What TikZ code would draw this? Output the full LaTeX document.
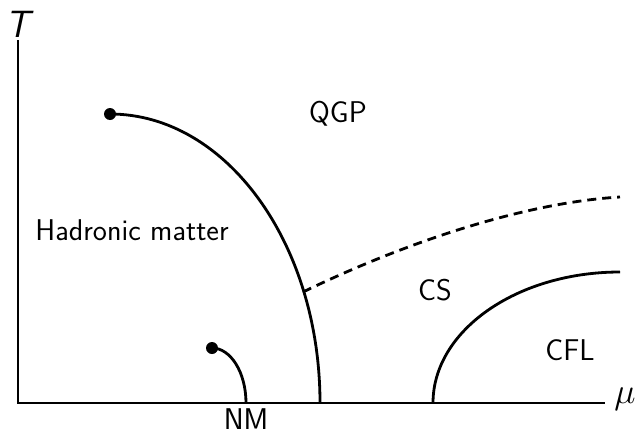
\documentclass[tikz,border=0pt]{standalone}
\usepackage{fix-cm}
\usepackage{fontspec}
\begin{document}
\begin{tikzpicture}[x=1pt,y=-1pt,
  line/.style={line width=2.8pt},
  lbl/.style={font=\fontsize{30}{36}\selectfont\sffamily, inner sep=0pt},
  dot/.style={circle, fill=black, inner sep=0pt, minimum size=12pt}]
\useasboundingbox (0,0) rectangle (637,434);
% axes
\coordinate (O) at (18,403);
\coordinate (Ttop) at (18,40);
\coordinate (Xend) at (605,403);
\draw[line] (Ttop) -- (O) -- (Xend);
\node[inner sep=0pt, font=\fontsize{38}{40}\selectfont\sffamily\itshape] (T) at (18,24) {T};
\node[inner sep=0pt, font=\fontsize{36}{40}\selectfont] (mu) at (625,399) {$\mu$};
% critical points
\node[dot] (cp1) at (110,114) {};
\node[dot] (cp2) at (212,348) {};
% main transition line
\coordinate (A) at (110,114);
\draw[line] (A) arc[start angle=90, end angle=0, x radius=210, y radius=-289];
% nuclear matter line
\coordinate (B) at (212,348);
\draw[line] (B) arc[start angle=90, end angle=0, x radius=34, y radius=-55];
% CFL line
\coordinate (C) at (433,403);
\draw[line] (C) arc[start angle=180, end angle=90, x radius=187, y radius=-131];
% dashed CS line
\coordinate (D0) at (303,292);
\coordinate (D1) at (620,197);
\draw[line, dash pattern=on 9pt off 6pt] (D0) .. controls (400,245) and (520,203) .. (D1);
% labels
\node[lbl] (qgp) at (338,114) {QGP};
\node[lbl] (had) at (132,230) {Hadronic matter};
\node[lbl] (cs) at (435,290) {CS};
\node[lbl] (cfl) at (570,350) {CFL};
\node[lbl] (nm) at (246,419) {NM};
\end{tikzpicture}
\end{document}
